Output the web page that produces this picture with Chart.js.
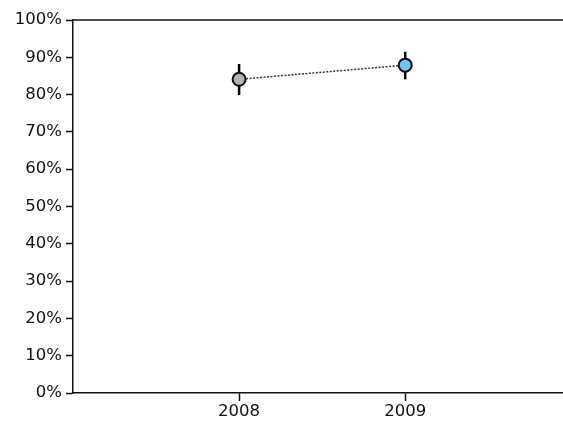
<!DOCTYPE html>
<html>
<head>
<meta charset="utf-8">
<script src="https://cdn.jsdelivr.net/npm/chart.js@4"></script>
<style>
  html, body { margin: 0; padding: 0; background: #fff; }
  #wrap { width: 563px; height: 421px; }
</style>
</head>
<body>
<div id="wrap"><canvas id="chart"></canvas></div>
<script>
// data
const years = [2008, 2009];
const values = [84.1, 87.9];
const errLow = [79.9, 84.1];
const errHigh = [88.2, 91.5];
const pointColors = ['#b3b3b3', '#74c3ff'];
const yTicks = [0, 10, 20, 30, 40, 50, 60, 70, 80, 90, 100];

const fontFamily = '"DejaVu Sans", Verdana, sans-serif';

// error bars, drawn under the points
const errorBars = {
    id: 'errorBars',
    beforeDatasetsDraw(chart) {
        const ctx = chart.ctx;
        const xs = chart.scales.x;
        const ys = chart.scales.y;
        ctx.save();
        ctx.strokeStyle = '#000';
        ctx.lineWidth = 2.5;
        for (let i = 0; i < years.length; i++) {
            const x = xs.getPixelForValue(years[i]);
            ctx.beginPath();
            ctx.moveTo(x, ys.getPixelForValue(errLow[i]));
            ctx.lineTo(x, ys.getPixelForValue(errHigh[i]));
            ctx.stroke();
        }
        ctx.restore();
    }
};

// top frame line
const topLine = {
    id: 'topLine',
    afterDraw(chart) {
        const a = chart.chartArea;
        const ctx = chart.ctx;
        ctx.save();
        ctx.strokeStyle = '#111';
        ctx.lineWidth = 1.5;
        ctx.beginPath();
        ctx.moveTo(a.left, a.top);
        ctx.lineTo(chart.width, a.top);
        ctx.stroke();
        ctx.restore();
    }
};

new Chart(document.getElementById('chart'), {
    type: 'line',
    data: {
        datasets: [{
            data: years.map((y, i) => ({ x: y, y: values[i] })),
            borderColor: '#333',
            borderWidth: 1.5,
            borderDash: [2, 1.5],
            pointRadius: 6.5,
            pointBorderWidth: 2,
            pointBorderColor: '#111',
            pointBackgroundColor: pointColors,
            fill: false
        }]
    },
    options: {
        responsive: true,
        maintainAspectRatio: false,
        animation: false,
        events: [],
        layout: { autoPadding: false, padding: { top: 20, right: 0, left: 0, bottom: 0 } },
        plugins: {
            legend: { display: false },
            tooltip: { enabled: false }
        },
        scales: {
            x: {
                type: 'linear',
                min: 2007,
                max: 2009.95,
                afterBuildTicks(scale) {
                    scale.ticks = years.map(v => ({ value: v }));
                },
                afterFit(scale) { scale.height = 28; },
                ticks: {
                    color: '#111',
                    padding: 1,
                    font: { family: fontFamily, size: 16.5 },
                    callback: v => String(v)
                },
                grid: {
                    drawOnChartArea: false,
                    drawTicks: true,
                    tickLength: 8,
                    tickColor: '#111',
                    tickWidth: 1.5
                },
                border: { color: '#111', width: 1.5 }
            },
            y: {
                min: 0,
                max: 100,
                afterBuildTicks(scale) {
                    scale.ticks = yTicks.map(v => ({ value: v }));
                },
                afterFit(scale) { scale.width = 73; },
                ticks: {
                    color: '#111',
                    padding: 4,
                    font: { family: fontFamily, size: 16.5 },
                    callback: v => v + '%'
                },
                grid: {
                    drawOnChartArea: false,
                    drawTicks: true,
                    tickLength: 7,
                    tickColor: '#111',
                    tickWidth: 1.5
                },
                border: { color: '#111', width: 1.5 }
            }
        }
    },
    plugins: [errorBars, topLine]
});
</script>
</body>
</html>
